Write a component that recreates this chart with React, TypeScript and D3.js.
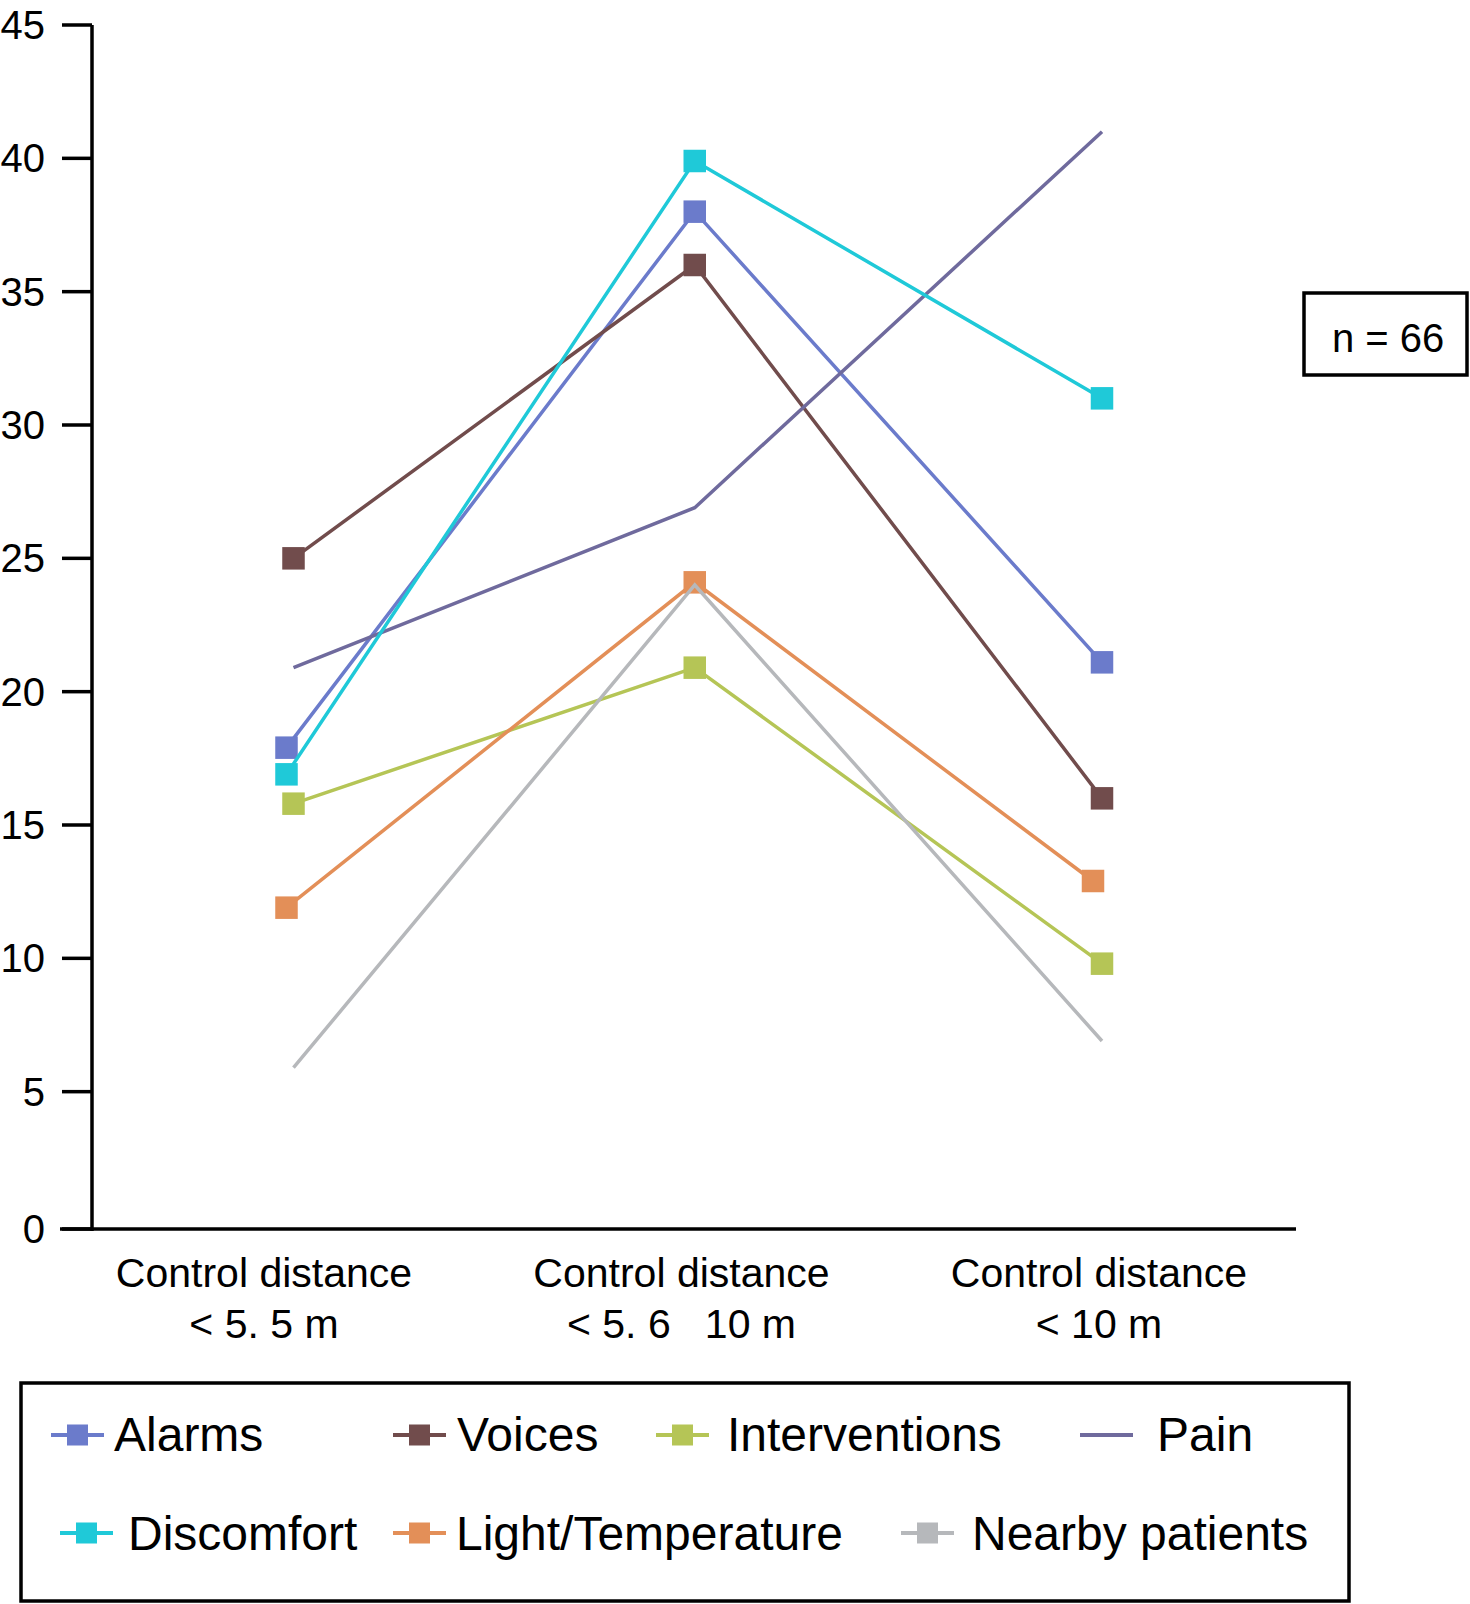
import React, { useRef, useEffect } from 'react';
import * as d3 from 'd3';

// categories on the x axis (two-line labels)
const categories = ['lt55', 'mid', 'lt10'];
const categoryLines = [
    ['Control distance', '< 5. 5 m'],
    ['Control distance', '< 5. 6\u00a0\u00a0 10 m'],
    ['Control distance', '< 10 m'],
];

const yTicks = [0, 5, 10, 15, 20, 25, 30, 35, 40, 45];

const alarms = [17.9, 38.0, 21.1];
const voices = [25.0, 36.0, 16.0];
const interventions = [15.8, 20.9, 9.8];
const pain = [20.9, 26.9, 41.0];
const discomfort = [16.9, 39.9, 31.0];
const lightTemp = [11.9, 24.1, 12.9];
const nearby = [5.9, 24.0, 6.9];

const sampleSize = 'n = 66';

interface Series {
    name: string;
    values: number[];
    color: string;
    marker: boolean;
    legendMarker: boolean;
    nudge: number[]; // small horizontal shifts seen in the original
}

const series: Series[] = [
    { name: 'Alarms', values: alarms, color: '#6b7bcb', marker: true, legendMarker: true, nudge: [-7, -3, 0] },
    { name: 'Voices', values: voices, color: '#714c4c', marker: true, legendMarker: true, nudge: [0, -3, 0] },
    { name: 'Interventions', values: interventions, color: '#b5c556', marker: true, legendMarker: true, nudge: [0, -3, 0] },
    { name: 'Pain', values: pain, color: '#6f6a9d', marker: false, legendMarker: false, nudge: [0, -3, 0] },
    { name: 'Discomfort', values: discomfort, color: '#1fc9d8', marker: true, legendMarker: true, nudge: [-7, -3, 0] },
    { name: 'Light/Temperature', values: lightTemp, color: '#e38f58', marker: true, legendMarker: true, nudge: [-7, -3, -9] },
    { name: 'Nearby patients', values: nearby, color: '#b6b8bb', marker: false, legendMarker: true, nudge: [0, -3, 0] },
];

// legend layout: symbol start x, text x, row
const legendLayout = [
    { sx: 51, tx: 114, row: 0 },
    { sx: 393, tx: 457, row: 0 },
    { sx: 656, tx: 727, row: 0 },
    { sx: 1080, tx: 1157, row: 0 },
    { sx: 60, tx: 128, row: 1 },
    { sx: 393, tx: 456, row: 1 },
    { sx: 901, tx: 972, row: 1 },
];

const FONT = '"Liberation Sans", Arial, Helvetica, sans-serif';

const App: React.FC = () => {
    const svgRef = useRef<SVGSVGElement | null>(null);

    useEffect(() => {
        const svg = d3.select(svgRef.current);
        svg.selectAll('*').remove();

        const width = 1470;
        const height = 1604;
        const axisX = 92;
        const axisY = 1229;

        const x = d3.scalePoint<string>().domain(categories).range([293.5, 1102]);
        const xLabel = d3.scalePoint<string>().domain(categories).range([264, 1099]);
        const y = d3.scaleLinear().domain([0, 45]).range([1225, 25]);

        svg.attr('width', width).attr('height', height);
        svg.append('rect').attr('width', width).attr('height', height).attr('fill', '#fff');

        // y axis
        const gy = svg.append('g');
        gy.append('line')
            .attr('x1', axisX).attr('x2', axisX)
            .attr('y1', y(45)).attr('y2', axisY + 2)
            .attr('stroke', '#000').attr('stroke-width', 3.5);
        const tick = gy.selectAll('g.tick').data(yTicks).join('g').attr('class', 'tick');
        tick.append('line')
            .attr('x1', 62).attr('x2', axisX)
            .attr('y1', d => (d === 0 ? axisY : y(d)))
            .attr('y2', d => (d === 0 ? axisY : y(d)))
            .attr('stroke', '#000').attr('stroke-width', 3.5);
        tick.append('text')
            .attr('x', 45)
            .attr('y', d => (d === 0 ? axisY : y(d)) + 14)
            .attr('text-anchor', 'end')
            .attr('font-family', FONT)
            .attr('font-size', 40)
            .text(d => d);

        // x axis
        svg.append('line')
            .attr('x1', 60).attr('x2', 1296)
            .attr('y1', axisY).attr('y2', axisY)
            .attr('stroke', '#000').attr('stroke-width', 3.5);

        const gx = svg.append('g');
        categories.forEach((c, i) => {
            categoryLines[i].forEach((line, j) => {
                gx.append('text')
                    .attr('x', xLabel(c) as number)
                    .attr('y', 1287 + j * 51)
                    .attr('text-anchor', 'middle')
                    .attr('font-family', FONT)
                    .attr('font-size', 41)
                    .style('white-space', 'pre')
                    .text(line);
            });
        });

        // series
        const px = (s: Series, i: number) => (x(categories[i]) as number) + s.nudge[i];

        series.forEach(s => {
            const g = svg.append('g');
            const path = d3
                .line<number>()
                .x((_, i) => px(s, i))
                .y(d => y(d));
            g.append('path')
                .attr('d', path(s.values) as string)
                .attr('fill', 'none')
                .attr('stroke', s.color)
                .attr('stroke-width', 3.5);
            if (s.marker) {
                const m = 22.5;
                g.selectAll('rect')
                    .data(s.values)
                    .join('rect')
                    .attr('x', (_, i) => px(s, i) - m / 2)
                    .attr('y', d => y(d) - m / 2)
                    .attr('width', m)
                    .attr('height', m)
                    .attr('fill', s.color);
            }
        });

        // n box
        svg.append('rect')
            .attr('x', 1304).attr('y', 293)
            .attr('width', 163).attr('height', 82)
            .attr('fill', 'none').attr('stroke', '#000').attr('stroke-width', 3.5);
        svg.append('text')
            .attr('x', 1332).attr('y', 352)
            .attr('font-family', FONT).attr('font-size', 40)
            .text(sampleSize);

        // legend
        svg.append('rect')
            .attr('x', 21).attr('y', 1383)
            .attr('width', 1328).attr('height', 218)
            .attr('fill', 'none').attr('stroke', '#000').attr('stroke-width', 3.5);

        const rowY = [1435, 1533];
        const rowBase = [1451, 1550];
        series.forEach((s, i) => {
            const L = legendLayout[i];
            const cy = rowY[L.row];
            const g = svg.append('g');
            g.append('line')
                .attr('x1', L.sx).attr('x2', L.sx + 53)
                .attr('y1', cy).attr('y2', cy)
                .attr('stroke', s.color).attr('stroke-width', 4);
            if (s.legendMarker) {
                const m = 21;
                g.append('rect')
                    .attr('x', L.sx + 26.5 - m / 2).attr('y', cy - m / 2)
                    .attr('width', m).attr('height', m)
                    .attr('fill', s.color);
            }
            g.append('text')
                .attr('x', L.tx).attr('y', rowBase[L.row])
                .attr('font-family', FONT).attr('font-size', 48)
                .text(s.name);
        });
    }, []);

    return <svg ref={svgRef} style={{ position: 'absolute', left: 0, top: 0 }} />;
};

export default App;
